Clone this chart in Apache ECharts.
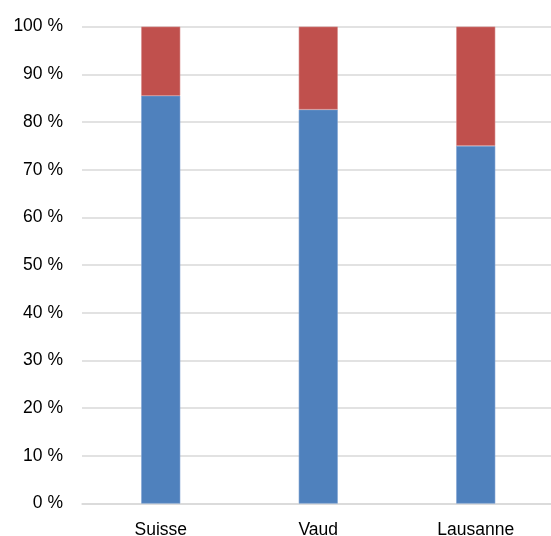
<!DOCTYPE html>
<html>
<head>
<meta charset="utf-8">
<script src="https://cdn.jsdelivr.net/npm/echarts@6/dist/echarts.min.js"></script>
<style>html,body{margin:0;padding:0;background:#fff;overflow:hidden;}#c{width:555px;height:536px;}</style>
</head>
<body>
<div id="c"></div>
<script>
const categories = ['Suisse', 'Vaud', 'Lausanne'];
const blueValues = [85.5, 82.6, 75.0];
const redValues = [14.5, 17.4, 25.0];
const yTicks = [0, 10, 20, 30, 40, 50, 60, 70, 80, 90, 100];

const chart = echarts.init(document.getElementById('c'));
chart.setOption({
  animation: false,
  grid: { left: 82, right: 0.5, top: 26.6, bottom: 32.4, containLabel: false, outerBoundsMode: 'none' },
  xAxis: {
    type: 'category',
    data: categories,
    axisTick: { show: false },
    axisLine: { lineStyle: { color: '#d9d9d9', width: 1.5 } },
    axisLabel: { color: '#000', fontFamily: 'Liberation Sans, Arial', fontSize: 17.5, margin: 18 }
  },
  yAxis: {
    type: 'value',
    min: 0, max: 100, interval: 10,
    axisLine: { show: false },
    axisTick: { show: false },
    splitLine: { lineStyle: { color: '#d9d9d9', width: 1.5 } },
    axisLabel: {
      color: '#000', fontFamily: 'Liberation Sans, Arial', fontSize: 17.5, margin: 19,
      formatter: v => yTicks.includes(v) ? v + ' %' : ''
    }
  },
  series: [
    { type: 'bar', stack: 's', data: blueValues, barWidth: '24.8%',
      itemStyle: { color: '#4f81bd', borderColor: '#7fa3d1', borderWidth: 0.6 } },
    { type: 'bar', stack: 's', data: redValues, barWidth: '24.8%',
      itemStyle: { color: '#c0504d', borderColor: '#d58a88', borderWidth: 0.6 } }
  ]
});
</script>
</body>
</html>
